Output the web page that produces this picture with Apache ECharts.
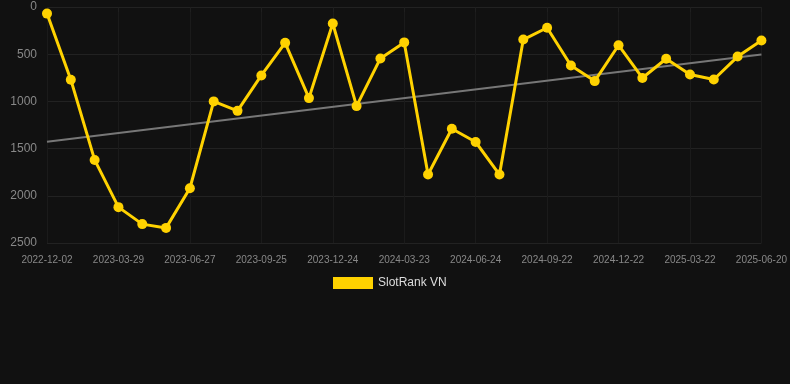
<!DOCTYPE html>
<html>
<head>
<meta charset="utf-8">
<script src="https://cdn.jsdelivr.net/npm/echarts@6/dist/echarts.min.js"></script>
<style>
  html, body { margin: 0; padding: 0; background: #111111; }
  #chart { width: 790px; height: 384px; }
</style>
</head>
<body>
<div id="chart"></div>
<script>
const dates = [
  '2022-12-02', '2023-01-10', '2023-02-18', '2023-03-29', '2023-04-28', '2023-05-28',
  '2023-06-27', '2023-07-27', '2023-08-26', '2023-09-25', '2023-10-25', '2023-11-24',
  '2023-12-24', '2024-01-23', '2024-02-22', '2024-03-23', '2024-04-24', '2024-05-25',
  '2024-06-24', '2024-07-24', '2024-08-23', '2024-09-22', '2024-10-22', '2024-11-22',
  '2024-12-22', '2025-01-21', '2025-02-20', '2025-03-22', '2025-04-21', '2025-05-21',
  '2025-06-20'
];
const rankVN = [
  70, 770, 1620, 2120, 2300, 2340, 1920, 1000, 1100, 725, 380, 965,
  175, 1050, 545, 375, 1775, 1290, 1430, 1775, 345, 220, 620, 785,
  405, 752, 548, 715, 768, 525, 355
];
// trend endpoints (first / last date)
const trendStart = 1427;
const trendEnd = 502;
const trendData = dates.map((d, i) => i === 0 ? trendStart : (i === dates.length - 1 ? trendEnd : null));

const chart = echarts.init(document.getElementById('chart'));

const option = {
  backgroundColor: '#111111',
  animation: false,
  grid: { left: 47, right: 28, top: 7, bottom: 141 },
  legend: {
    data: ['SlotRank VN'],
    top: 277,
    left: 333,
    padding: 0,
    itemWidth: 40,
    itemHeight: 12,
    itemGap: 10,
    icon: 'rect',
    textStyle: { color: '#dddddd', fontSize: 12 }
  },
  xAxis: {
    type: 'category',
    data: dates,
    boundaryGap: false,
    axisLine: { show: false },
    axisTick: { show: true, interval: 2, length: 5, lineStyle: { color: '#1f1f1f' } },
    axisLabel: { interval: 2, color: '#888888', fontSize: 10, margin: 12 },
    splitLine: { show: true, interval: 2, lineStyle: { color: '#1b1b1b' } }
  },
  yAxis: {
    type: 'value',
    inverse: true,
    min: 0,
    max: 2500,
    interval: 500,
    axisLine: { show: false },
    axisTick: { show: false },
    axisLabel: { color: '#888888', fontSize: 12, margin: 10, formatter: v => String(v) },
    splitLine: { lineStyle: { color: '#222222' } }
  },
  series: [
    {
      name: 'SlotRank VN',
      type: 'line',
      data: rankVN,
      symbol: 'circle',
      symbolSize: 10,
      itemStyle: { color: '#ffd200' },
      lineStyle: { color: '#ffd200', width: 3 },
      z: 3
    },
    {
      name: 'Trend',
      type: 'line',
      data: trendData,
      connectNulls: true,
      symbol: 'none',
      lineStyle: { color: '#777777', width: 2 },
      z: 2
    }
  ]
};

chart.setOption(option);
</script>
</body>
</html>
